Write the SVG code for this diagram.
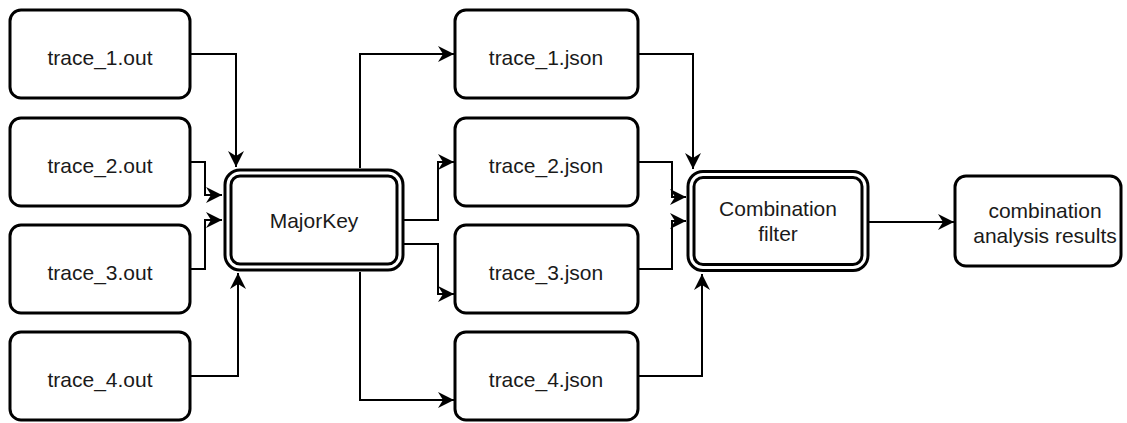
<svg xmlns="http://www.w3.org/2000/svg" width="1127" height="423" viewBox="0 0 1127 423">
  <style>
    .box { fill: #ffffff; stroke: #000000; stroke-width: 3; }
    .dbl-out { fill: #ffffff; stroke: #000000; stroke-width: 9; }
    .dbl-in { fill: none; stroke: #ffffff; stroke-width: 3; }
    .label { font-family: "Liberation Sans", Arial, Helvetica, sans-serif; font-size: 21px; fill: #1a1a1a; text-anchor: middle; }
    .edge { fill: none; stroke: #000000; stroke-width: 2; }
  </style>
  <defs>
    <marker id="arrow" markerUnits="userSpaceOnUse" markerWidth="18" markerHeight="18" viewBox="0 0 18 18" refX="16" refY="9" orient="auto">
      <path d="M0,1 L16,9 L0,17 L5,9 Z" fill="#000000"/>
    </marker>
  </defs>

  <!-- connectors -->
  <g id="connectors">
    <path class="edge" d="M190,54 H236 V167" marker-end="url(#arrow)"/>
    <path class="edge" d="M190,162 H205 V195 H222" marker-end="url(#arrow)"/>
    <path class="edge" d="M190,269 H205 V220 H222" marker-end="url(#arrow)"/>
    <path class="edge" d="M190,376 H238 V273" marker-end="url(#arrow)"/>

    <path class="edge" d="M360,168 V54 H454" marker-end="url(#arrow)"/>
    <path class="edge" d="M404,220 H438 V162 H454" marker-end="url(#arrow)"/>
    <path class="edge" d="M404,244 H438 V294 H454" marker-end="url(#arrow)"/>
    <path class="edge" d="M360,272 V400 H454" marker-end="url(#arrow)"/>

    <path class="edge" d="M638,54 H693 V169" marker-end="url(#arrow)"/>
    <path class="edge" d="M638,162 H672 V197 H686" marker-end="url(#arrow)"/>
    <path class="edge" d="M638,269 H672 V221 H686" marker-end="url(#arrow)"/>
    <path class="edge" d="M638,376 H702 V274" marker-end="url(#arrow)"/>

    <path class="edge" d="M869,222 H954" marker-end="url(#arrow)"/>
  </g>

  <!-- input traces -->
  <g id="trace_1_out">
    <rect class="box" x="10" y="10" width="180" height="88" rx="11"/>
    <text class="label" x="100" y="65">trace_1.out</text>
  </g>
  <g id="trace_2_out">
    <rect class="box" x="10" y="118" width="180" height="88" rx="11"/>
    <text class="label" x="100" y="173">trace_2.out</text>
  </g>
  <g id="trace_3_out">
    <rect class="box" x="10" y="225" width="180" height="88" rx="11"/>
    <text class="label" x="100" y="280">trace_3.out</text>
  </g>
  <g id="trace_4_out">
    <rect class="box" x="10" y="332" width="180" height="88" rx="11"/>
    <text class="label" x="100" y="387">trace_4.out</text>
  </g>

  <!-- converter -->
  <g id="majorkey">
    <rect class="dbl-out" x="228" y="173" width="172" height="94" rx="12"/>
    <rect class="dbl-in" x="228" y="173" width="172" height="94" rx="12"/>
    <text class="label" x="314" y="228">MajorKey</text>
  </g>

  <!-- json outputs -->
  <g id="trace_1_json">
    <rect class="box" x="455" y="10" width="183" height="88" rx="11"/>
    <text class="label" x="546" y="65">trace_1.json</text>
  </g>
  <g id="trace_2_json">
    <rect class="box" x="455" y="118" width="183" height="88" rx="11"/>
    <text class="label" x="546" y="173">trace_2.json</text>
  </g>
  <g id="trace_3_json">
    <rect class="box" x="455" y="225" width="183" height="88" rx="11"/>
    <text class="label" x="546" y="280">trace_3.json</text>
  </g>
  <g id="trace_4_json">
    <rect class="box" x="455" y="332" width="183" height="88" rx="11"/>
    <text class="label" x="546" y="387">trace_4.json</text>
  </g>

  <!-- filter -->
  <g id="combination_filter">
    <rect class="dbl-out" x="691" y="174.5" width="174" height="93" rx="12"/>
    <rect class="dbl-in" x="691" y="174.5" width="174" height="93" rx="12"/>
    <text class="label" x="778" y="216">Combination</text>
    <text class="label" x="778" y="241">filter</text>
  </g>

  <!-- results -->
  <g id="results">
    <rect class="box" x="955" y="176" width="166" height="90" rx="11"/>
    <text class="label" x="1045" y="218">combination</text>
    <text class="label" x="1045" y="243">analysis results</text>
  </g>
</svg>
